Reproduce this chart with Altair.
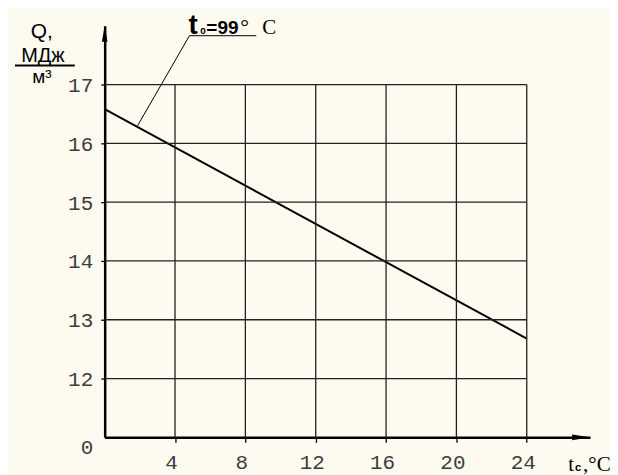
import altair as alt
import pandas as pd

# ---- data ----
x_ticks = [4, 8, 12, 16, 20, 24]
y_ticks = [12, 13, 14, 15, 16, 17]
y_axis_values = [11, 12, 13, 14, 15, 16, 17]   # 11 is shown as "0" (broken axis)
line_t = [0, 24]
line_q = [16.58, 12.68]

X_MAX = 27.6
Y_MIN, Y_MAX = 11, 18

BG = "#fdfbef"
MONO = "Liberation Mono"
SANS = "Liberation Sans"
SERIF = "Liberation Serif"
LABEL_COLOR = "#3c3c3c"

xs = alt.Scale(domain=[0, X_MAX], nice=False, zero=False)
ys = alt.Scale(domain=[Y_MIN, Y_MAX], nice=False, zero=False)

line_df = pd.DataFrame({"t": line_t, "q": line_q})

x_axis = alt.Axis(
    values=x_ticks, grid=False, title=None,
    domainColor="black", domainWidth=2.5,
    tickColor="black", tickWidth=1.3, tickSize=5,
    labelFont=MONO, labelFontSize=21, labelColor=LABEL_COLOR,
    labelPadding=9, labelOffset=-4,
)
y_axis = alt.Axis(
    values=y_axis_values, grid=False, title=None,
    domainColor="black", domainWidth=2.5,
    tickColor="black", tickWidth=1.3, tickSize=4,
    tickOpacity={"condition": {"test": "datum.value == 11", "value": 0}, "value": 1},
    labelExpr="datum.value == 11 ? '0' : datum.value",
    labelOffset={"condition": {"test": "datum.value == 11", "value": 10}, "value": 1},
    labelFont=MONO, labelFontSize=21, labelColor=LABEL_COLOR, labelPadding=8,
)

data_line = alt.Chart(line_df).mark_line(color="black", strokeWidth=2).encode(
    x=alt.X("t:Q", scale=xs, axis=x_axis),
    y=alt.Y("q:Q", scale=ys, axis=y_axis),
)

# grid
vgrid = alt.Chart(pd.DataFrame({"t": x_ticks, "y0": [11] * len(x_ticks), "y1": [17] * len(x_ticks)})).mark_rule(
    color="#222", strokeWidth=1.3
).encode(x=alt.X("t:Q", scale=xs), y=alt.Y("y0:Q", scale=ys), y2="y1:Q")
hgrid = alt.Chart(pd.DataFrame({"q": y_ticks, "x0": [0] * len(y_ticks), "x1": [24] * len(y_ticks)})).mark_rule(
    color="#222", strokeWidth=1.3
).encode(y=alt.Y("q:Q", scale=ys), x=alt.X("x0:Q", scale=xs), x2="x1:Q")

# arrow heads
y_arrow = alt.Chart(pd.DataFrame({"t": [0], "q": [Y_MAX]})).mark_point(
    shape="M0,-1L0.35,1L-0.35,1Z", size=256, filled=True, color="black", opacity=1, yOffset=8
).encode(x=alt.X("t:Q", scale=xs), y=alt.Y("q:Q", scale=ys))
x_arrow = alt.Chart(pd.DataFrame({"t": [X_MAX], "q": [Y_MIN]})).mark_point(
    shape="M1,0L-1,0.33L-1,-0.33Z", size=324, filled=True, color="black", opacity=1, xOffset=-9
).encode(x=alt.X("t:Q", scale=xs), y=alt.Y("q:Q", scale=ys))

# leader line for the curve label
leader = alt.Chart(pd.DataFrame({"a": [1.87, 4.82], "b": [16.30, 17.83], "a2": [4.82, 8.62], "b2": [17.83, 17.83]})).mark_rule(
    color="black", strokeWidth=1
).encode(x=alt.X("a:Q", scale=xs), y=alt.Y("b:Q", scale=ys), x2="a2:Q", y2="b2:Q")


def txt(s, x, y, font, size, weight="normal", align="left"):
    return alt.Chart(pd.DataFrame({"s": [s]})).mark_text(
        font=font, fontSize=size, fontWeight=weight, align=align, baseline="alphabetic", color="black"
    ).encode(text="s:N", x=alt.value(x), y=alt.value(y))


labels = [
    # curve label t0=99 °C
    txt("t", 84, 8, SANS, 28, "bold"),
    txt("0", 96, 8, SANS, 10, "bold"),
    txt("=99", 102, 8, SANS, 19, "bold"),
    txt("°", 136, 8, SERIF, 22),
    txt("C", 158, 8, SERIF, 21),
    # y title
    txt("Q,", -63, 12, SANS, 21, align="center"),
    txt("МДж", -62, 36, SANS, 20, align="center"),
    txt("м³", -63, 57, SANS, 19, align="center"),
    # x title
    txt("t", 465, 447, SERIF, 21),
    txt("c", 472, 447, SANS, 11, "bold"),
    txt(",°C", 480, 447, SERIF, 21),
]

underline = alt.Chart(pd.DataFrame({"v": [0]})).mark_rule(color="black", strokeWidth=2).encode(
    x=alt.value(-90), x2=alt.value(-30), y=alt.value(40)
)

chart = alt.layer(data_line, vgrid, hgrid, leader, y_arrow, x_arrow, underline, *labels).properties(
    width=487, height=413,
    autosize=alt.AutoSizeParams(type="none"),
    padding={"left": 97, "top": 17, "right": 20, "bottom": 40},
    background=BG,
).configure_view(stroke=None)

chart.save("out.html", embed_options={"renderer": "svg", "actions": False})
